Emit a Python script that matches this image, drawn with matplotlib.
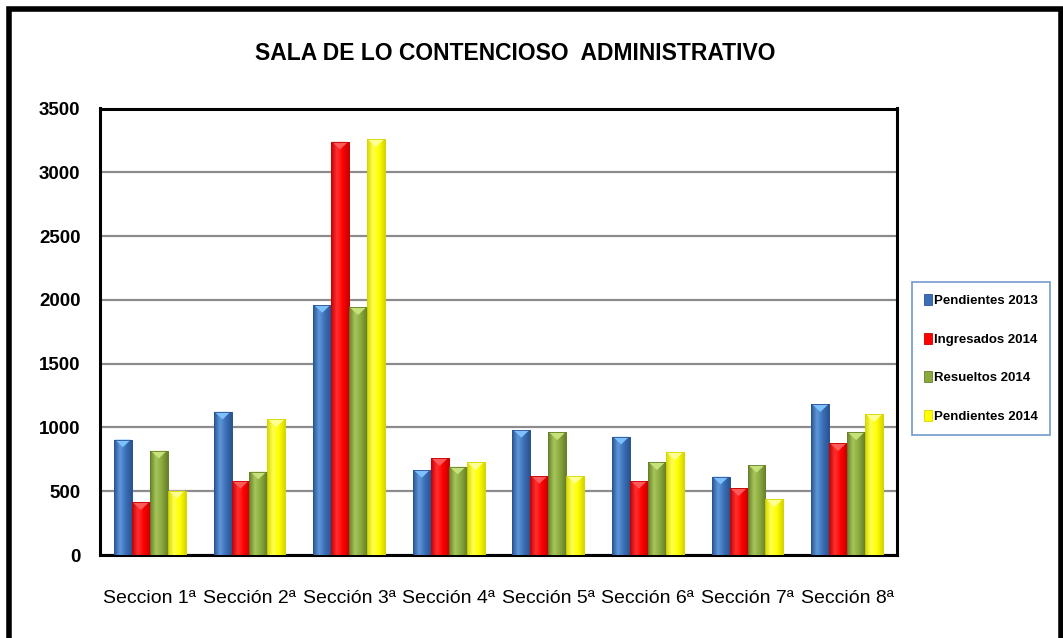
import matplotlib
matplotlib.use("Agg")
import matplotlib.pyplot as plt
import numpy as np
from matplotlib.colors import LinearSegmentedColormap
from matplotlib.patches import Polygon, Rectangle

categories = ["Seccion 1ª", "Sección 2ª", "Sección 3ª", "Sección 4ª",
              "Sección 5ª", "Sección 6ª", "Sección 7ª", "Sección 8ª"]
series_names = ["Pendientes 2013", "Ingresados 2014", "Resueltos 2014", "Pendientes 2014"]
pendientes_2013 = [905, 1123, 1959, 666, 980, 927, 614, 1181]
ingresados_2014 = [413, 580, 3239, 758, 619, 580, 522, 875]
resueltos_2014 = [817, 653, 1941, 692, 961, 726, 705, 961]
pendientes_2014 = [504, 1063, 3258, 726, 619, 805, 436, 1103]
yticks = [0, 500, 1000, 1500, 2000, 2500, 3000, 3500]
title = "SALA DE LO CONTENCIOSO  ADMINISTRATIVO"

series = [pendientes_2013, ingresados_2014, resueltos_2014, pendientes_2014]
base_colors = ["#3B6FB6", "#FF0000", "#8AA83E", "#FFFF00"]
light_colors = ["#5E97DA", "#FF3030", "#A6C65A", "#FFFF50"]
dark_colors = ["#2A5490", "#C80000", "#66802A", "#D6D600"]
tri_colors = ["#7CC0FF", "#FF5A5A", "#C6E07A", "#FFFF9A"]

FONT = ["Liberation Sans Narrow", "Liberation Sans", "DejaVu Sans"]
plt.rcParams["font.family"] = FONT

fig = plt.figure(figsize=(10.63, 6.38), dpi=100)
ax = fig.add_axes([100 / 1063, 1 - 555 / 638, (897 - 100) / 1063, (555 - 108.5) / 638])

x = np.arange(len(categories))
bw = 0.18
offsets = [-1.5 * bw, -0.5 * bw, 0.5 * bw, 1.5 * bw]

ax.set_xlim(-0.5, len(categories) - 0.5)
ax.set_ylim(0, 3500)

for i, vals in enumerate(series):
    bars = ax.bar(x + offsets[i], vals, width=bw, color=base_colors[i],
                  edgecolor=dark_colors[i], linewidth=0.6, zorder=3,
                  label=series_names[i])
    cmap = LinearSegmentedColormap.from_list(
        "g%d" % i, [dark_colors[i], light_colors[i], base_colors[i], dark_colors[i]])
    grad = np.linspace(0, 1, 64).reshape(1, -1)
    for b in bars:
        x0, w, h = b.get_x(), b.get_width(), b.get_height()
        im = ax.imshow(grad, cmap=cmap, aspect="auto",
                       extent=(x0, x0 + w, 0, h), zorder=3.5, interpolation="bilinear")
        im.set_clip_path(b)
        th = 60
        tri = Polygon([(x0 + 0.05 * w, h), (x0 + 0.95 * w, h), (x0 + 0.5 * w, h - th)],
                      closed=True, facecolor=tri_colors[i], edgecolor="none", zorder=4)
        ax.add_patch(tri)
        ax.add_patch(Rectangle((x0, 0), w, h, fill=False, edgecolor=dark_colors[i],
                               linewidth=0.6, zorder=4.5))

ax.set_xlim(-0.5, len(categories) - 0.5)
ax.set_ylim(0, 3500)
ax.set_yticks(yticks)
ax.set_yticklabels([str(t) for t in yticks], fontsize=13.5, fontweight="bold")
ax.set_xticks(x)
ax.set_xticklabels(categories, fontsize=14)
ax.tick_params(axis="both", length=0)
ax.tick_params(axis="x", pad=25)
ax.tick_params(axis="y", pad=14)
ax.yaxis.grid(True, color="#8C8C8C", linewidth=1.6, zorder=1)
ax.set_axisbelow(True)
for s in ax.spines.values():
    s.set_color("black")
    s.set_linewidth(2.2)

fig.text(515 / 1063, 1 - 53 / 638, title, ha="center", va="center",
         fontsize=16.5, fontweight="bold")

leg = fig.legend(loc="upper left", bbox_to_anchor=(912 / 1063, 1 - 282 / 638),
                 frameon=True, fancybox=False, handlelength=0.6, handleheight=0.9,
                 handletextpad=0.2, labelspacing=1.95, borderpad=0.9, borderaxespad=0,
                 prop={"family": FONT, "weight": "bold", "size": 9.5})
leg.get_frame().set_edgecolor("#4F81BD")
leg.get_frame().set_linewidth(1.2)

# outer frame
fig.patches.append(Rectangle((8.5 / 1063, -0.05), (1060.5 - 8.5) / 1063, 1.05 - 8.5 / 638,
                             transform=fig.transFigure, fill=False,
                             edgecolor="black", linewidth=4, zorder=10))

fig.savefig("out.png", dpi=100)
